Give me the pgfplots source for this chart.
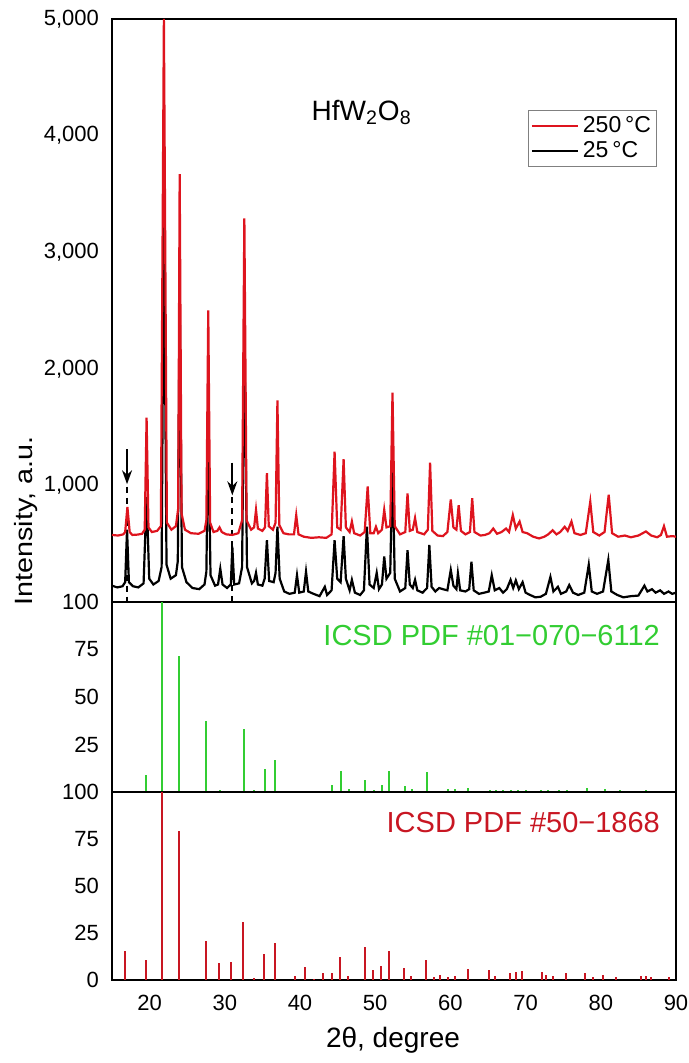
\documentclass[border=0pt]{standalone}
\usepackage{fontspec}
\setmainfont{Liberation Sans}
\usepackage{pgfplots}
\pgfplotsset{compat=1.18}
\usetikzlibrary{arrows.meta}

\definecolor{hotred}{RGB}{222,20,30}
\definecolor{refgreen}{RGB}{50,205,50}
\definecolor{refred}{RGB}{200,22,34}

\pgfplotsset{
  panel/.style={
    scale only axis, width=282pt,
    xmin=15, xmax=90,
    axis line style={line width=1.1pt},
    major tick length=0pt,
    tick label style={font=\fontsize{11}{13}\selectfont},
    yticklabel style={xshift=-3pt},
    xticklabel style={yshift=-4pt},
    /pgf/number format/assume math mode=true,
    /pgf/number format/1000 sep={,},
  },
  sticks/.style={ycomb, no marks, line width=1pt},
}

\begin{document}
\begin{tikzpicture}
\path[use as bounding box] (-56pt,-41.5pt) rectangle (288.5pt,490pt);

% measured patterns, top panel
\begin{axis}[panel, at={(0pt,189pt)}, height=291.5pt,
  ymin=0, ymax=5000, ytick={1000,2000,3000,4000,5000},
  xticklabels={},
  legend style={at={(rel axis cs:0.738,0.844)}, anchor=north west,
    draw=gray, line width=0.5pt, font=\fontsize{11.5}{13}\selectfont,
    inner sep=1pt, row sep=-1pt},
  legend cell align=left,
  legend image code/.code={\draw[#1] (0pt,0pt) -- (23pt,0pt);}]

% arrows and dashed guides
\draw[line width=1.1pt, dash pattern=on 3pt off 2.5pt] (axis cs:17.0,990) -- (axis cs:17.0,0);
\draw[line width=1.1pt, dash pattern=on 3pt off 2.5pt] (axis cs:31.0,900) -- (axis cs:31.0,0);
\draw[line width=0.9pt, -{Stealth[length=7pt,width=5pt]}] (axis cs:17.0,1310) -- (axis cs:17.0,1010);
\draw[line width=0.9pt, -{Stealth[length=7pt,width=5pt]}] (axis cs:31.0,1195) -- (axis cs:31.0,915);

\addplot[black, line width=1.1pt, forget plot] coordinates {
(15.0,140) (15.7,125) (16.4,135) (16.75,170) (17.0,620) (17.25,170) (17.8,135)
(18.5,125) (19.2,160) (19.6,900) (19.95,200) (20.5,150) (21.2,180) (21.6,300)
(21.9,3400) (22.25,320) (22.8,200) (23.5,230) (23.75,350) (24.0,2600) (24.3,300)
(24.9,170) (25.7,120) (26.6,110) (27.3,150) (27.55,260) (27.8,1500) (28.1,230)
(28.7,140) (29.1,150) (29.4,285) (29.7,150) (30.3,120) (30.8,150) (31.0,475)
(31.25,150) (31.9,160) (32.3,300) (32.6,2300) (32.95,300) (33.6,160) (33.9,180)
(34.15,250) (34.4,150) (35.0,140) (35.3,200) (35.6,530) (35.9,180) (36.5,170)
(36.75,250) (37.0,645) (37.3,200) (37.9,90) (38.6,70) (39.3,80) (39.6,230)
(39.9,80) (40.5,90) (40.8,260) (41.1,90) (41.8,70) (42.6,50) (43.3,130)
(43.6,60) (44.2,100) (44.6,530) (44.95,200) (45.4,170) (45.8,565) (46.1,200)
(46.6,100) (46.9,190) (47.3,80) (48.0,60) (48.5,100) (48.9,645) (49.25,150)
(49.8,120) (50.2,250) (50.5,110) (50.9,150) (51.2,390) (51.5,200) (52.0,250)
(52.3,1200) (52.6,200) (53.3,90) (54.0,120) (54.3,445) (54.6,150) (55.0,120)
(55.3,190) (55.6,100) (56.3,80) (56.9,120) (57.2,490) (57.5,130) (58.0,90)
(58.5,120) (59.0,110) (59.6,100) (60.05,275) (60.4,140) (60.8,110) (61.0,245)
(61.3,100) (62.0,90) (62.5,110) (62.8,345) (63.1,100) (63.8,70) (64.5,80)
(65.1,90) (65.5,230) (65.9,100) (66.5,120) (67.0,80) (67.5,110) (68.0,190)
(68.35,120) (68.7,185) (69.1,110) (69.6,170) (70.0,80) (70.6,60) (71.3,40)
(72.0,45) (72.7,70) (73.3,215) (73.7,90) (74.3,130) (74.7,70) (75.4,90)
(75.8,145) (76.3,80) (77.0,60) (77.8,80) (78.4,320) (78.8,90) (79.5,70)
(80.3,90) (81.0,360) (81.4,90) (82.2,60) (83.0,40) (84.0,50) (85.0,55)
(85.8,140) (86.2,90) (86.8,110) (87.3,80) (87.9,100) (88.4,70) (89.0,90)
(89.5,70) (90.0,80)
};

\addplot[hotred, line width=1.1pt, forget plot] coordinates {
(15.0,575) (15.8,570) (16.5,580) (16.75,600) (17.05,815) (17.35,600) (17.7,575)
(18.4,578) (19.0,585) (19.35,620) (19.6,1580) (19.85,640) (20.3,600) (21.0,610)
(21.5,650) (21.9,5000) (22.3,680) (22.9,620) (23.5,650) (23.8,800) (24.0,3670)
(24.25,760) (24.7,620) (25.5,590) (26.5,585) (27.3,610) (27.55,700) (27.8,2500)
(28.05,680) (28.5,600) (29.0,610) (29.3,640) (29.6,600) (30.2,580) (31.0,575)
(31.8,590) (32.3,700) (32.6,3290) (32.9,700) (33.5,620) (33.9,640) (34.15,790)
(34.4,630) (35.0,610) (35.35,640) (35.6,1105) (35.85,650) (36.4,620) (36.75,680)
(37.0,1730) (37.25,660) (37.8,590) (38.5,580) (39.2,580) (39.5,745) (39.8,580)
(40.5,560) (41.5,550) (42.5,555) (43.5,550) (44.2,580) (44.6,1290) (44.95,640)
(45.4,620) (45.8,1225) (46.1,640) (46.6,600) (46.9,690) (47.2,590) (48.0,570)
(48.6,600) (49.0,990) (49.35,590) (49.8,590) (50.1,645) (50.4,590) (50.9,620)
(51.2,790) (51.5,640) (52.0,650) (52.3,1795) (52.6,650) (53.3,580) (54.0,600)
(54.3,930) (54.6,610) (55.0,620) (55.3,720) (55.6,600) (56.5,580) (57.0,620)
(57.3,1195) (57.6,610) (58.3,570) (59.0,565) (59.6,600) (60.05,880) (60.4,640)
(60.8,620) (61.1,830) (61.4,610) (62.0,580) (62.6,600) (62.9,890) (63.2,600)
(64.0,570) (64.6,575) (65.2,590) (65.7,630) (66.2,585) (66.8,600) (67.4,630)
(67.8,600) (68.3,745) (68.7,630) (69.2,690) (69.6,600) (70.2,590) (71.0,560)
(71.8,545) (72.5,560) (73.0,580) (73.6,615) (74.1,580) (74.6,600) (75.2,645)
(75.6,610) (76.1,690) (76.5,590) (77.3,575) (78.0,590) (78.6,860) (79.0,600)
(79.8,570) (80.5,600) (81.05,920) (81.5,590) (82.3,560) (83.2,570) (84.0,555)
(85.0,570) (86.0,605) (86.7,570) (87.5,555) (88.0,575) (88.4,650) (88.8,560)
(89.5,565) (90.0,560)
};

\addlegendimage{hotred, line width=1.1pt}
\addlegendentry{250\,°C}
\addlegendimage{black, line width=1.1pt}
\addlegendentry{25\,°C}

\node[font=\fontsize{14}{16}\selectfont] at (axis cs:48.2,4200) {HfW\textsubscript{2}O\textsubscript{8}};
\end{axis}

% reference pattern ICSD PDF 01-070-6112
\begin{axis}[panel, at={(0pt,94pt)}, height=95pt,
  ymin=0, ymax=100, ytick={25,50,75,100}, xticklabels={}]
\addplot[sticks, refgreen] coordinates {
(17.0,0.6) (19.47,9) (21.7,100) (23.85,71.6) (27.56,37.3) (29.3,1) (32.5,33.4)
(33.9,1) (35.34,12) (36.7,17) (39.3,0.6) (40.5,0.6) (41.6,0.6) (44.2,3.7)
(45.4,11) (46.5,1.4) (48.7,6.2) (49.8,1) (50.86,3.9) (51.87,11.2) (53.95,3.2)
(54.9,1.8) (56.9,10.7) (59.7,1.4) (60.6,1.8) (62.4,2.3) (65.2,1) (66.1,1)
(67.0,1) (68.0,1.2) (69.0,1) (70.0,1) (72.0,0.8) (73.0,1) (74.5,0.8) (75.5,1)
(78.1,2.3) (80.5,1.8) (82.5,0.8) (84.5,0.6) (86.0,0.8) (87.5,0.6) (89.0,0.6)
};
\node[anchor=east, text=refgreen, font=\fontsize{14.5}{16}\selectfont]
  at (rel axis cs:0.984,0.826) {ICSD PDF \#01−070−6112};
\end{axis}

% reference pattern ICSD PDF 50-1868
\begin{axis}[panel, at={(0pt,0pt)}, height=94pt,
  ymin=0, ymax=100, ytick={0,25,50,75,100},
  xtick={20,30,...,90}]
\addplot[sticks, refred] coordinates {
(16.7,15.5) (19.5,10.8) (21.7,100) (23.85,79.2) (27.56,20.8) (29.2,9) (30.8,9.4)
(32.4,30.6) (33.9,0.9) (35.25,13.8) (36.7,19.6) (39.4,1.9) (40.6,6.7) (41.8,0.5)
(43.0,3.9) (44.2,3.9) (45.3,12.5) (46.4,2.3) (48.65,17.7) (49.75,5.5) (50.8,7.6)
(51.85,15.5) (53.8,6.2) (54.8,2.3) (56.7,10.8) (57.8,1.4) (58.6,2.8) (59.7,1.8)
(60.6,2.3) (62.35,5.8) (65.1,5.5) (65.9,2.3) (67.9,3.7) (68.7,4.4) (69.5,4.9)
(72.2,4.4) (72.75,2.6) (73.6,2.3) (75.4,3.5) (77.9,3.7) (78.9,1.8) (80.25,2.6)
(82.0,1.4) (85.3,1.9) (86.0,1.9) (86.7,1.4) (89.1,1.8)
};
\node[anchor=east, text=refred, font=\fontsize{14.5}{16}\selectfont]
  at (rel axis cs:0.984,0.835) {ICSD PDF \#50−1868};
\end{axis}

\node[rotate=90, font=\fontsize{12.5}{14}\selectfont] at (-43pt,229.5pt)
  {\scalebox{1.15}[1]{Intensity, a.u.}};
\node[font=\fontsize{14}{16}\selectfont] at (140.5pt,-30pt) {2θ, degree};
\end{tikzpicture}
\end{document}
